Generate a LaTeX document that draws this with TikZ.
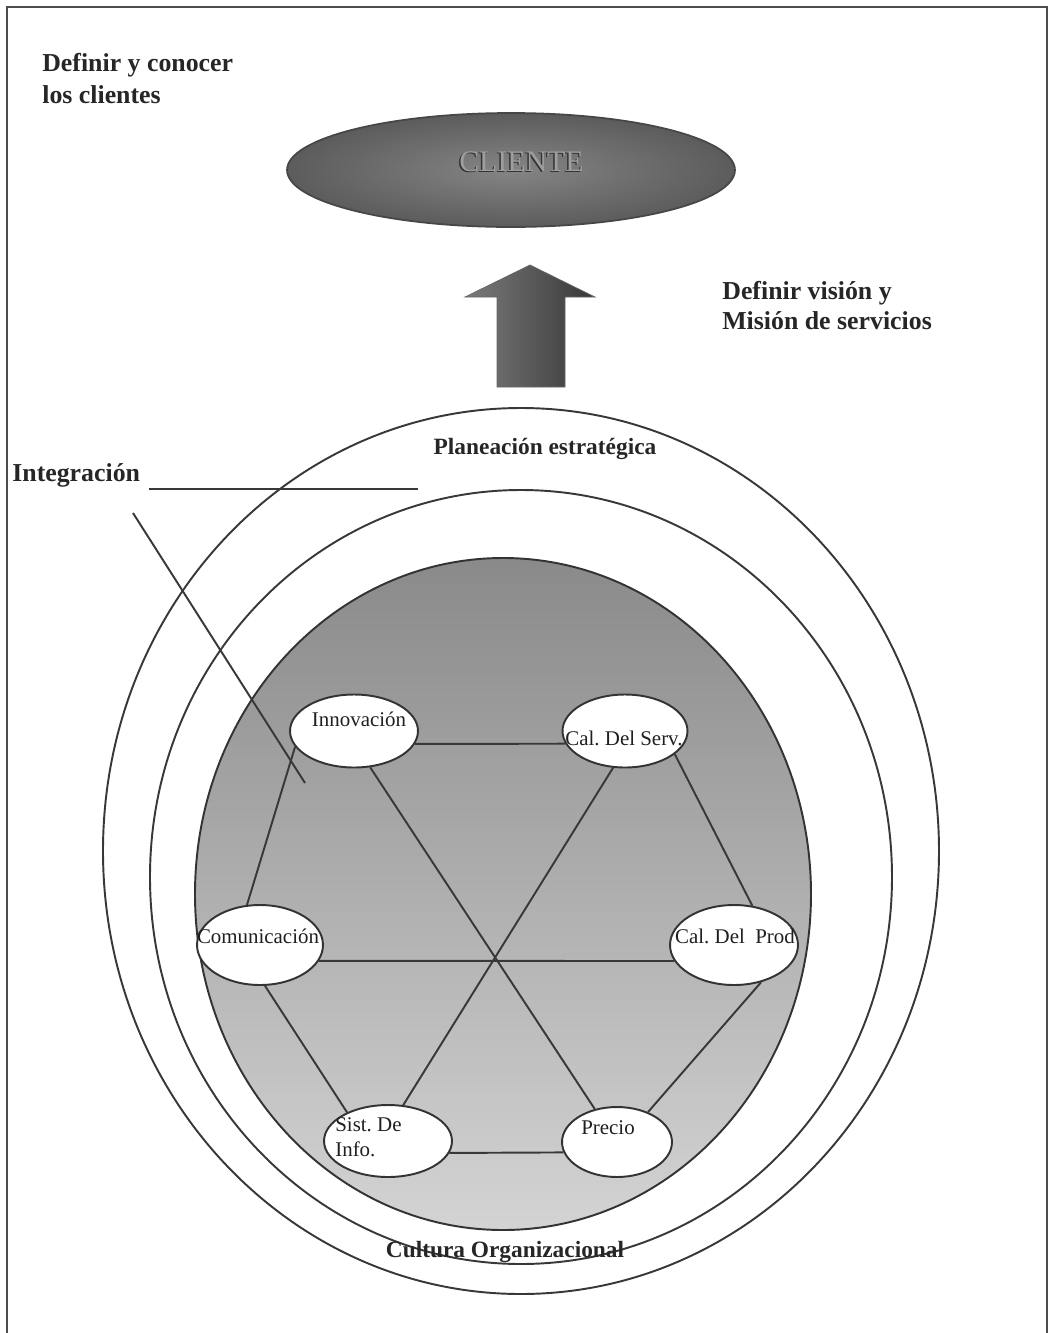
\documentclass[tikz,border=0pt]{standalone}
\usepackage{fontspec}
\setmainfont{Liberation Serif}
\usetikzlibrary{shapes.geometric}

\begin{document}
\frenchspacing
\begin{tikzpicture}[x=0.02cm, y=-0.02cm,
  ink/.style={draw=black!78, line width=1.1pt},
  link/.style={draw=black!78, line width=1.1pt},
  bubble/.style={ellipse, draw=black!80, line width=1.1pt, fill=white, inner sep=0pt},
  lbl/.style={font=\fontsize{11.9}{14.2}\selectfont, text=black!88, inner sep=0pt},
  ringlbl/.style={font=\bfseries\fontsize{13.3}{16}\selectfont, text=black!85, inner sep=0pt},
]
\useasboundingbox (0,0) rectangle (1050,1333);

% page frame (open at the bottom)
\draw[black!70, line width=1.2pt] (7,1333) -- (7,7) -- (1047,7) -- (1047,1333);

% headings
\node[font=\bfseries\fontsize{14.7}{18.1}\selectfont, text=black!85, align=left,
      inner sep=0pt, anchor=north west] (conocer) at (42,53) {Definir y conocer\\los clientes};
\node[font=\bfseries\fontsize{14.7}{17}\selectfont, text=black!85, align=left,
      inner sep=0pt, anchor=north west] (mision) at (722,281) {Definir visión y\\Misión de servicios};

% client ellipse
\node[ellipse, minimum width=8.96cm, minimum height=2.28cm, inner sep=0pt,
      draw=black!72, line width=1pt, shade, inner color=black!48, outer color=black!64] (cliente) at (511,170) {};
\node[font=\fontsize{17}{20}\selectfont, text=black!80, inner sep=0pt] (clienteSh) at (520,163) {CLIENTE};
\node[font=\fontsize{17}{20}\selectfont, text=black!38, inner sep=0pt] (clienteTx) at (521.5,162) {CLIENTE};

% block arrow pointing at the client
\shade[left color=black!52, right color=black!78, draw=black!60, line width=0.4pt]
  (497,387) -- (497,297) -- (465,297) -- (530,265) -- (595,297) -- (565,297) -- (565,387) -- cycle;

% concentric rings
\draw[ink] (521,851) ellipse [x radius=418, y radius=443];
\draw[ink] (521,877) ellipse [x radius=371, y radius=387];
\shade[top color=black!46, middle color=black!35, bottom color=black!17, draw=black!80, line width=1.1pt]
  (503,894) ellipse [x radius=308, y radius=336];

\node[ringlbl, anchor=base] (planeacion) at (545,454) {Planeación estratégica};
\node[ringlbl, anchor=base] (cultura) at (505,1257) {Cultura Organizacional};

% integration pointer
\node[font=\bfseries\fontsize{14.7}{17}\selectfont, text=black!85, inner sep=0pt, anchor=base west] (integ) at (12,481) {Integración};
\coordinate (intA) at (149,489);
\coordinate (intB) at (418,489);
\coordinate (intC) at (133,513);
\coordinate (intD) at (305,783);
\draw[link] (intA) -- (intB);
\draw[link] (intC) -- (intD);

% the six factors
\node[bubble, minimum width=2.56cm, minimum height=1.46cm] (inno) at (354,731) {};
\node[bubble, minimum width=2.50cm, minimum height=1.46cm] (serv) at (625,731) {};
\node[bubble, minimum width=2.52cm, minimum height=1.60cm] (comm) at (260,945) {};
\node[bubble, minimum width=2.56cm, minimum height=1.60cm] (prod) at (734,945) {};
\node[bubble, minimum width=2.56cm, minimum height=1.44cm] (sist) at (388,1141) {};
\node[bubble, minimum width=2.20cm, minimum height=1.40cm] (precio) at (617,1142) {};

\node[lbl, anchor=base] (innoT) at (359,726) {Innovación};
\node[lbl, anchor=base] (servT) at (624,745) {Cal. Del Serv.};
\node[lbl, anchor=base] (commT) at (258,943) {Comunicación};
\node[lbl, anchor=base] (prodT) at (735,943) {Cal. Del\ \ Prod};
\node[lbl, align=left, anchor=north west] (sistT) at (335,1117) {Sist. De\\Info.};
\node[lbl, anchor=base] (precioT) at (608,1134) {Precio};

% hexagon of links
\draw[link] (inno.-12) -- (serv.192);
\draw[link] (serv.-25) -- (prod.65);
\draw[link] (prod.-54) -- (precio.44);
\draw[link] (precio.191) -- (sist.-11);
\draw[link] (sist.145) -- (comm.-83);
\draw[link] (comm.108) -- (inno.-165);
% cross links through the middle
\draw[link] (comm.-15.6) -- (prod.195);
\draw[link] (inno.-66.6) -- (precio.124);
\draw[link] (serv.-108) -- (sist.67);
\end{tikzpicture}
\end{document}
